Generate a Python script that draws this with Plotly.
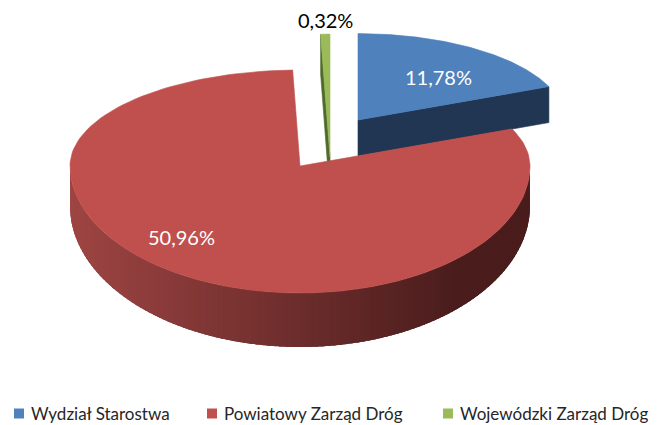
import math
import plotly.graph_objects as go

# ---- data ----
categories = ["Wydział Starostwa", "Powiatowy Zarząd Dróg", "Wojewódzki Zarząd Dróg"]
values = [11.78, 50.96, 0.32]
value_labels = [f"{v:.2f}".replace(".", ",") + "%" for v in values]

# ---- style ----
W, H = 657, 425
OFF = 8                                  # page body margin of the html page
A, B_BACK, B_FRONT = 230, 96, 127       # ellipse semi-axes (px)
D_SIDE, D_EXTRA = 40, 14                # pie thickness (px)
top_colors = ["#4F81BD", "#C0504D", "#9BBB59"]
face_colors = ["#203652", "#8a3532", "#4f6a2a"]
side_left, side_right = (0x9E, 0x45, 0x43), (0x4A, 0x1C, 0x1C)
slice_center = [(358, 120), (300, 166), (330, 157)]
slice_scale = [0.9, 1.0, 1.28]
FONT = "Lato"

total = sum(values)
angles = []
acc = 0.0
for v in values:
    t0 = acc / total * 2 * math.pi
    acc += v
    angles.append((t0, acc / total * 2 * math.pi))


def rim(i, th):
    cx, cy = slice_center[i]
    s = slice_scale[i]
    b = B_BACK if math.cos(th) >= 0 else B_FRONT
    return cx + A * s * math.sin(th), cy - b * s * math.cos(th)


def depth(i, th):
    return min(slice_scale[i], 1.0) * (D_SIDE + D_EXTRA * max(0.0, -math.cos(th)))


def arc(i, t0, t1, n=160):
    return [rim(i, t0 + (t1 - t0) * k / n) for k in range(n + 1)]


fig = go.Figure()


def poly(pts, color, lw=0.6):
    xs = [p[0] for p in pts] + [pts[0][0]]
    ys = [p[1] for p in pts] + [pts[0][1]]
    fig.add_trace(go.Scatter(x=xs, y=ys, mode="lines", fill="toself",
                             fillcolor=color, line=dict(color=color, width=lw),
                             hoverinfo="skip", showlegend=False))


def end_face(i, th):
    cx, cy = slice_center[i]
    rx, ry = rim(i, th)
    d = depth(i, th)
    poly([(cx, cy), (rx, ry), (rx, ry + d), (cx, cy + d)], face_colors[i])


def top_face(i):
    t0, t1 = angles[i]
    poly([slice_center[i]] + arc(i, t0, t1), top_colors[i])


# green (back)
end_face(2, angles[2][0])
top_face(2)
# blue
end_face(0, angles[0][1])
top_face(0)
# red side with gradient (overlapping strips, no seams)
t0, t1 = angles[1]
lo, hi = max(t0, math.pi / 2), min(t1, 3 * math.pi / 2)
N = 120
step = (hi - lo) / N
for k in range(N):
    a0 = lo + step * k
    a1 = min(hi, a0 + step * 2.5)
    p0 = rim(1, a0)
    t = (p0[0] - (slice_center[1][0] - A)) / (2 * A)
    t = min(1.0, t / 0.85)
    c = tuple(round(side_left[j] + (side_right[j] - side_left[j]) * t) for j in range(3))
    col = "rgb(%d,%d,%d)" % c
    pts = [rim(1, a0 + (a1 - a0) * m / 4) for m in range(5)]
    bottom = [(p[0], p[1] + depth(1, a0 + (a1 - a0) * m / 4)) for m, p in enumerate(pts)]
    poly(pts + bottom[::-1], col, lw=0)
top_face(1)

# ---- data labels ----
annotations = []
lab_frac = [(0.7, 0.6), (0.95, 0.66), (None, None)]
for i in range(3):
    t0, t1 = angles[i]
    tm = (t0 + t1) / 2
    cx, cy = slice_center[i]
    s = slice_scale[i]
    if i == 2:
        rx, ry = rim(i, tm)
        x, y, col = rx, ry - 14, "#000000"
    else:
        fx, fy = lab_frac[i]
        b = B_BACK if math.cos(tm) >= 0 else B_FRONT
        x = cx + fx * A * s * math.sin(tm)
        y = cy - fy * b * s * math.cos(tm)
        col = "#FFFFFF"
    annotations.append(dict(x=x, y=y, xref="x", yref="y", text=value_labels[i],
                            showarrow=False, font=dict(family=FONT, size=20, color=col),
                            xanchor="center", yanchor="middle"))

# ---- legend (manual) ----
legend_x = [14, 207, 443]
shapes = []
for i, name in enumerate(categories):
    lx = legend_x[i]
    shapes.append(dict(type="rect", xref="x", yref="y", x0=lx, x1=lx + 10,
                       y0=408.5, y1=418.5, fillcolor=top_colors[i], line=dict(width=0)))
    annotations.append(dict(x=lx + 15, y=413.5, xref="x", yref="y", text=name,
                            showarrow=False, xanchor="left", yanchor="middle",
                            font=dict(family=FONT, size=17, color="#262626")))

fig.update_layout(
    width=W - OFF, height=H - OFF, margin=dict(l=0, r=0, t=0, b=0),
    paper_bgcolor="white", plot_bgcolor="white",
    xaxis=dict(range=[OFF, W], visible=False, fixedrange=True),
    yaxis=dict(range=[H, OFF], visible=False, fixedrange=True),
    annotations=annotations, shapes=shapes, showlegend=False,
)
fig.write_html("out.html")
